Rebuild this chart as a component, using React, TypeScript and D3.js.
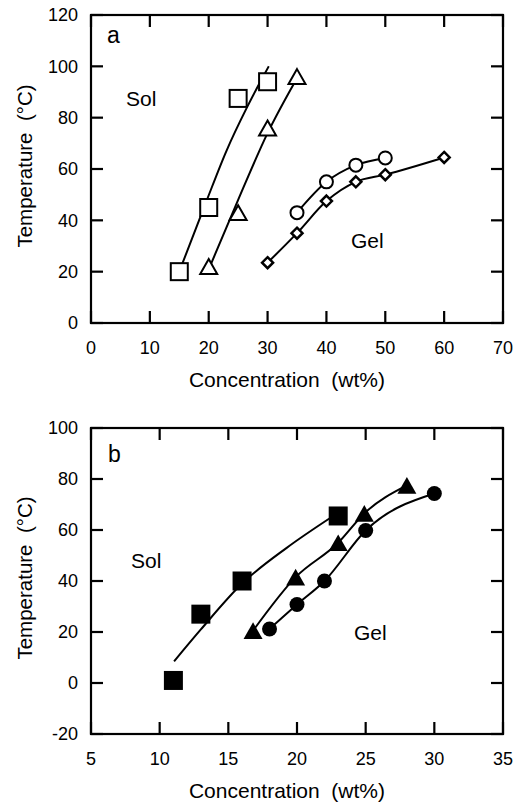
import React from "react";
import * as d3 from "d3";

type Pt = { c: number; t: number };

// ---------- Panel a ----------
const aXTicks = [0, 10, 20, 30, 40, 50, 60, 70];
const aYTicks = [0, 20, 40, 60, 80, 100, 120];
const aSquares: Pt[] = [
  { c: 15, t: 20 },
  { c: 20, t: 45 },
  { c: 25, t: 87.5 },
  { c: 30, t: 94 },
];
const aSquaresFit: Pt[] = [
  { c: 15.5, t: 23 },
  { c: 19.7, t: 48 },
  { c: 23, t: 67 },
  { c: 26.5, t: 84 },
  { c: 29, t: 95 },
  { c: 30.2, t: 100 },
];
const aTriangles: Pt[] = [
  { c: 20, t: 22 },
  { c: 25, t: 43 },
  { c: 30, t: 76 },
  { c: 35, t: 96 },
];
const aTrianglesFit: Pt[] = [
  { c: 20.2, t: 22 },
  { c: 25, t: 48 },
  { c: 30, t: 74 },
  { c: 34.9, t: 95 },
];
const aCircles: Pt[] = [
  { c: 35, t: 43 },
  { c: 40, t: 55 },
  { c: 45, t: 61.5 },
  { c: 50, t: 64.3 },
];
const aDiamonds: Pt[] = [
  { c: 30, t: 23.5 },
  { c: 35, t: 35 },
  { c: 40, t: 47.5 },
  { c: 45, t: 55 },
  { c: 50, t: 57.8 },
  { c: 60, t: 64.5 },
];

// ---------- Panel b ----------
const bXTicks = [5, 10, 15, 20, 25, 30, 35];
const bYTicks = [-20, 0, 20, 40, 60, 80, 100];
const bSquares: Pt[] = [
  { c: 11, t: 1 },
  { c: 13, t: 27 },
  { c: 16, t: 40 },
  { c: 23, t: 65.5 },
];
const bSquaresFit: Pt[] = [
  { c: 11.05, t: 8.5 },
  { c: 13, t: 21 },
  { c: 16, t: 39 },
  { c: 19.25, t: 53 },
  { c: 22.5, t: 65 },
];
const bTriangles: Pt[] = [
  { c: 16.8, t: 20.5 },
  { c: 19.9, t: 41.5 },
  { c: 23, t: 55 },
  { c: 24.9, t: 66.5 },
  { c: 28, t: 77.5 },
];
const bCircles: Pt[] = [
  { c: 18, t: 21.2 },
  { c: 20, t: 30.8 },
  { c: 22, t: 40 },
  { c: 25, t: 59.8 },
  { c: 30, t: 74.3 },
];

const FONT = "'Liberation Sans', Arial, Helvetica, sans-serif";

type Series = {
  pts: Pt[];
  fit: Pt[];
  shape: "square" | "triangle" | "circle" | "diamond";
  filled: boolean;
  size: number;
  sw: number;
};

type Label = { text: string; x: number; y: number; size: number };

type PanelProps = {
  xDomain: [number, number];
  yDomain: [number, number];
  xTicks: number[];
  yTicks: number[];
  left: number;
  right: number;
  top: number;
  bottom: number;
  series: Series[];
  labels: Label[];
};

function marker(shape: string, x: number, y: number, s: number, filled: boolean, sw: number, key: string) {
  const fill = filled ? "#000" : "#fff";
  const common = { fill, stroke: "#000", strokeWidth: sw };
  if (shape === "square") {
    return <rect key={key} {...common} x={x - s / 2} y={y - s / 2} width={s} height={s} />;
  }
  if (shape === "circle") {
    return <circle key={key} {...common} cx={x} cy={y} r={s / 2} />;
  }
  if (shape === "triangle") {
    const w = s;
    const h = s * 0.88;
    return (
      <path
        key={key}
        {...common}
        d={`M${x},${y - h / 2}L${x + w / 2},${y + h / 2}L${x - w / 2},${y + h / 2}Z`}
      />
    );
  }
  const r = s / 2;
  return <path key={key} {...common} d={`M${x},${y - r}L${x + r},${y}L${x},${y + r}L${x - r},${y}Z`} />;
}

function Panel(p: PanelProps) {
  const xs = d3.scaleLinear().domain(p.xDomain).range([p.left, p.right]);
  const ys = d3.scaleLinear().domain(p.yDomain).range([p.bottom, p.top]);
  const gen = d3
    .line<Pt>()
    .x((d) => xs(d.c))
    .y((d) => ys(d.t))
    .curve(d3.curveMonotoneX);
  const tl = 12;
  const tw = 2.2;
  const cx = (p.left + p.right) / 2 - 10;
  const cy = (p.top + p.bottom) / 2 - 3;
  const tickRects: { x: number; y: number; w: number; h: number; k: string }[] = [];
  p.xTicks.forEach((t) => {
    const X = xs(t);
    tickRects.push({ x: X - tw / 2, y: p.bottom - tl, w: tw, h: tl, k: "xb" + t });
    tickRects.push({ x: X - tw / 2, y: p.top, w: tw, h: tl, k: "xt" + t });
  });
  p.yTicks.forEach((t) => {
    const Y = ys(t);
    tickRects.push({ x: p.left, y: Y - tw / 2, w: tl, h: tw, k: "yl" + t });
    tickRects.push({ x: p.right - tl, y: Y - tw / 2, w: tl, h: tw, k: "yr" + t });
  });
  return (
    <g>
      {p.series.map((s, i) => (
        <path key={"l" + i} d={gen(s.fit) || ""} fill="none" stroke="#000" strokeWidth={2} />
      ))}
      {p.series.map((s, i) =>
        s.pts.map((d, j) => marker(s.shape, xs(d.c), ys(d.t), s.size, s.filled, s.sw, `m${i}-${j}`))
      )}
      {tickRects.map((r) => (
        <rect key={r.k} x={r.x} y={r.y} width={r.w} height={r.h} fill="#000" />
      ))}
      <rect x={p.left} y={p.top} width={p.right - p.left} height={p.bottom - p.top} fill="none" stroke="#000" strokeWidth={2.2} />
      {p.xTicks.map((t) => (
        <text key={"xl" + t} x={xs(t)} y={p.bottom + 31} textAnchor="middle" fontFamily={FONT} fontSize={18}>
          {t}
        </text>
      ))}
      {p.yTicks.map((t) => (
        <text key={"yl" + t} x={p.left - 13} y={ys(t)} dy="0.36em" textAnchor="end" fontFamily={FONT} fontSize={18}>
          {t}
        </text>
      ))}
      <text
        x={cx}
        y={p.bottom + 64}
        textAnchor="middle"
        fontFamily={FONT}
        fontSize={21}
        style={{ whiteSpace: "pre" }}
      >
        {"Concentration  (wt%)"}
      </text>
      <text
        transform={`translate(32,${cy}) rotate(-90)`}
        textAnchor="middle"
        fontFamily={FONT}
        fontSize={20.5}
        style={{ whiteSpace: "pre" }}
      >
        {"Temperature  (°C)"}
      </text>
      {p.labels.map((l) => (
        <text key={l.text} x={l.x} y={l.y} fontFamily={FONT} fontSize={l.size}>
          {l.text}
        </text>
      ))}
    </g>
  );
}

export default function App() {
  const seriesA: Series[] = [
    { pts: aSquares, fit: aSquaresFit, shape: "square", filled: false, size: 17, sw: 2 },
    { pts: aTriangles, fit: aTrianglesFit, shape: "triangle", filled: false, size: 17, sw: 2 },
    { pts: aCircles, fit: aCircles, shape: "circle", filled: false, size: 13, sw: 2 },
    { pts: aDiamonds, fit: aDiamonds, shape: "diamond", filled: false, size: 11, sw: 2.5 },
  ];
  const seriesB: Series[] = [
    { pts: bSquares, fit: bSquaresFit, shape: "square", filled: true, size: 19, sw: 0 },
    { pts: bTriangles, fit: bTriangles, shape: "triangle", filled: true, size: 19, sw: 0 },
    { pts: bCircles, fit: bCircles, shape: "circle", filled: true, size: 15, sw: 0 },
  ];
  return (
    <svg
      width={517}
      height={805}
      style={{ position: "absolute", left: 0, top: 0, background: "#fff" }}
    >
      <Panel
        xDomain={[0, 70]}
        yDomain={[0, 120]}
        xTicks={aXTicks}
        yTicks={aYTicks}
        left={91}
        right={503}
        top={15}
        bottom={323}
        series={seriesA}
        labels={[
          { text: "a", x: 107, y: 43, size: 23 },
          { text: "Sol", x: 126, y: 106, size: 21 },
          { text: "Gel", x: 351, y: 248, size: 21 },
        ]}
      />
      <Panel
        xDomain={[5, 35]}
        yDomain={[-20, 100]}
        xTicks={bXTicks}
        yTicks={bYTicks}
        left={91}
        right={503}
        top={428}
        bottom={734}
        series={seriesB}
        labels={[
          { text: "b", x: 108, y: 462, size: 23 },
          { text: "Sol", x: 131, y: 568, size: 21 },
          { text: "Gel", x: 354, y: 640, size: 21 },
        ]}
      />
    </svg>
  );
}
